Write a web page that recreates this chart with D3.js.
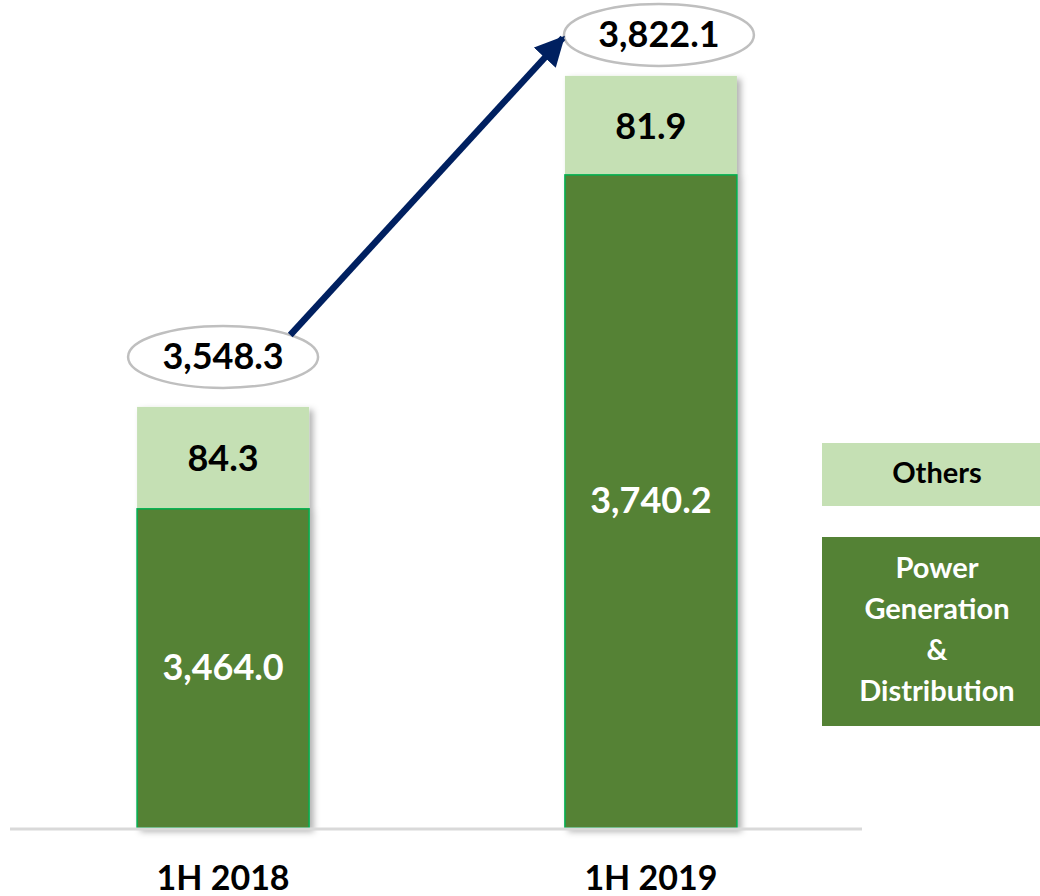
<!DOCTYPE html>
<meta charset="utf-8">
<script src="https://d3js.org/d3.v7.min.js"></script>
<style>
  body { margin: 0; background: #fff; }
  text { font-family: 'Lato', 'Open Sans', sans-serif; font-weight: 700; }
</style>
<body>
<div id="my_dataviz"></div>

<script>

// data
var periods = ["1H 2018", "1H 2019"];
var powerGen = [3464.0, 3740.2];
var others = [84.3, 81.9];
var totals = [3548.3, 3822.1];
var series = ["Others", "Power Generation & Distribution"];

var width = 1040, height = 896;

var svg = d3.select("#my_dataviz")
  .append("svg")
    .attr("width", width)
    .attr("height", height);

// drop shadow for the bars
var defs = svg.append("defs");
defs.append("filter")
    .attr("id", "shadow")
    .attr("x", "-10%").attr("y", "-10%")
    .attr("width", "130%").attr("height", "130%")
  .append("feDropShadow")
    .attr("dx", 4).attr("dy", 3)
    .attr("stdDeviation", 3)
    .attr("flood-color", "#000")
    .attr("flood-opacity", 0.3);

defs.append("marker")
    .attr("id", "arrowhead")
    .attr("viewBox", "0 0 10 10")
    .attr("refX", 9).attr("refY", 5)
    .attr("markerWidth", 4.6).attr("markerHeight", 4.6)
    .attr("orient", "auto")
  .append("path")
    .attr("d", "M0,0 L10,5 L0,10 z")
    .attr("fill", "#002060");

// scales (value axis starts at 3,200)
var x = d3.scaleBand()
  .domain(periods)
  .range([10, 864])
  .paddingInner(0.598)
  .paddingOuter(0.297);

var y = d3.scaleLinear()
  .domain([3200, 3900])
  .range([828, 828 - 700 * 1.209]);

var rows = periods.map(function(p, i) {
  return {period: p, power: powerGen[i], others: others[i], total: totals[i]};
});

// bars
var bars = svg.append("g")
  .selectAll("g")
  .data(rows)
  .enter()
  .append("g")
    .attr("filter", "url(#shadow)");

bars.append("rect")
    .attr("x", function(d) { return x(d.period); })
    .attr("y", function(d) { return y(d.power + d.others); })
    .attr("width", x.bandwidth())
    .attr("height", function(d) { return y(d.power) - y(d.power + d.others); })
    .attr("fill", "#c5e0b4");

bars.append("rect")
    .attr("x", function(d) { return x(d.period); })
    .attr("y", function(d) { return y(d.power); })
    .attr("width", x.bandwidth())
    .attr("height", function(d) { return y(3200) - y(d.power); })
    .attr("fill", "#548235")
    .attr("stroke", "#00b050")
    .attr("stroke-width", 1.5);

// baseline
svg.append("line")
    .attr("x1", 10).attr("x2", 862)
    .attr("y1", y(3200) + 1).attr("y2", y(3200) + 1)
    .attr("stroke", "#d9d9d9")
    .attr("stroke-width", 3);

// segment labels
svg.append("g").selectAll("text")
  .data(rows)
  .enter()
  .append("text")
    .attr("x", function(d) { return x(d.period) + x.bandwidth() / 2; })
    .attr("y", function(d) { return (y(d.power) + y(d.power + d.others)) / 2 + 4; })
    .attr("text-anchor", "middle")
    .attr("dominant-baseline", "middle")
    .style("font-size", "36px")
    .attr("fill", "#000")
    .text(function(d) { return d3.format(",.1f")(d.others); });

svg.append("g").selectAll("text")
  .data(rows)
  .enter()
  .append("text")
    .attr("x", function(d) { return x(d.period) + x.bandwidth() / 2; })
    .attr("y", function(d) { return (y(d.power) + y(3200)) / 2 + 2; })
    .attr("text-anchor", "middle")
    .attr("dominant-baseline", "middle")
    .style("font-size", "36px")
    .attr("fill", "#fff")
    .text(function(d) { return d3.format(",.1f")(d.power); });

// totals in ellipses
var rx = 95, ry = 31;
function ellX(d, i) { return x(d.period) + x.bandwidth() / 2 + (i === 1 ? 8 : 0); }
function ellY(d, i) { return y(d.total) - (i === 1 ? 41 : 50); }

var tot = svg.append("g").selectAll("g")
  .data(rows)
  .enter()
  .append("g");

tot.append("ellipse")
    .attr("cx", ellX)
    .attr("cy", ellY)
    .attr("rx", rx).attr("ry", ry)
    .attr("fill", "#fff")
    .attr("stroke", "#bfbfbf")
    .attr("stroke-width", 2.5);

tot.append("text")
    .attr("x", ellX)
    .attr("y", function(d, i) { return ellY(d, i) + 3; })
    .attr("text-anchor", "middle")
    .attr("dominant-baseline", "middle")
    .style("font-size", "36px")
    .attr("fill", "#000")
    .text(function(d) { return d3.format(",.1f")(d.total); });

// growth arrow from first ellipse to second
var a = Math.PI / 4;
var x1 = ellX(rows[0], 0) + rx * Math.cos(a),
    y1 = ellY(rows[0], 0) - ry * Math.sin(a),
    x2 = ellX(rows[1], 1) - rx - 1,
    y2 = ellY(rows[1], 1) + 3;
svg.append("line")
    .attr("x1", x1).attr("y1", y1)
    .attr("x2", x2).attr("y2", y2)
    .attr("stroke", "#002060")
    .attr("stroke-width", 6.5)
    .attr("marker-end", "url(#arrowhead)");

// category labels
svg.append("g").selectAll("text")
  .data(periods)
  .enter()
  .append("text")
    .attr("x", function(d) { return x(d) + x.bandwidth() / 2; })
    .attr("y", 890)
    .attr("text-anchor", "middle")
    .style("font-size", "34px")
    .attr("fill", "#000")
    .text(function(d) { return d; });

// handmade legend
svg.append("rect").attr("x", 822).attr("y", 443).attr("width", 218).attr("height", 63).attr("fill", "#c5e0b4");
svg.append("text").attr("x", 937).attr("y", 476).attr("text-anchor", "middle")
    .attr("dominant-baseline", "middle").style("font-size", "29px").attr("fill", "#000").text(series[0]);

svg.append("rect").attr("x", 822).attr("y", 537).attr("width", 218).attr("height", 189).attr("fill", "#548235");
var lines = ["Power", "Generation", "&", "Distribution"];
svg.append("g").selectAll("text")
  .data(lines)
  .enter()
  .append("text")
    .attr("x", 937)
    .attr("y", function(d, i) { return 571 + i * 40.7; })
    .attr("text-anchor", "middle")
    .attr("dominant-baseline", "middle")
    .style("font-size", "29px")
    .attr("fill", "#fff")
    .text(function(d) { return d; });

</script>
</body>
